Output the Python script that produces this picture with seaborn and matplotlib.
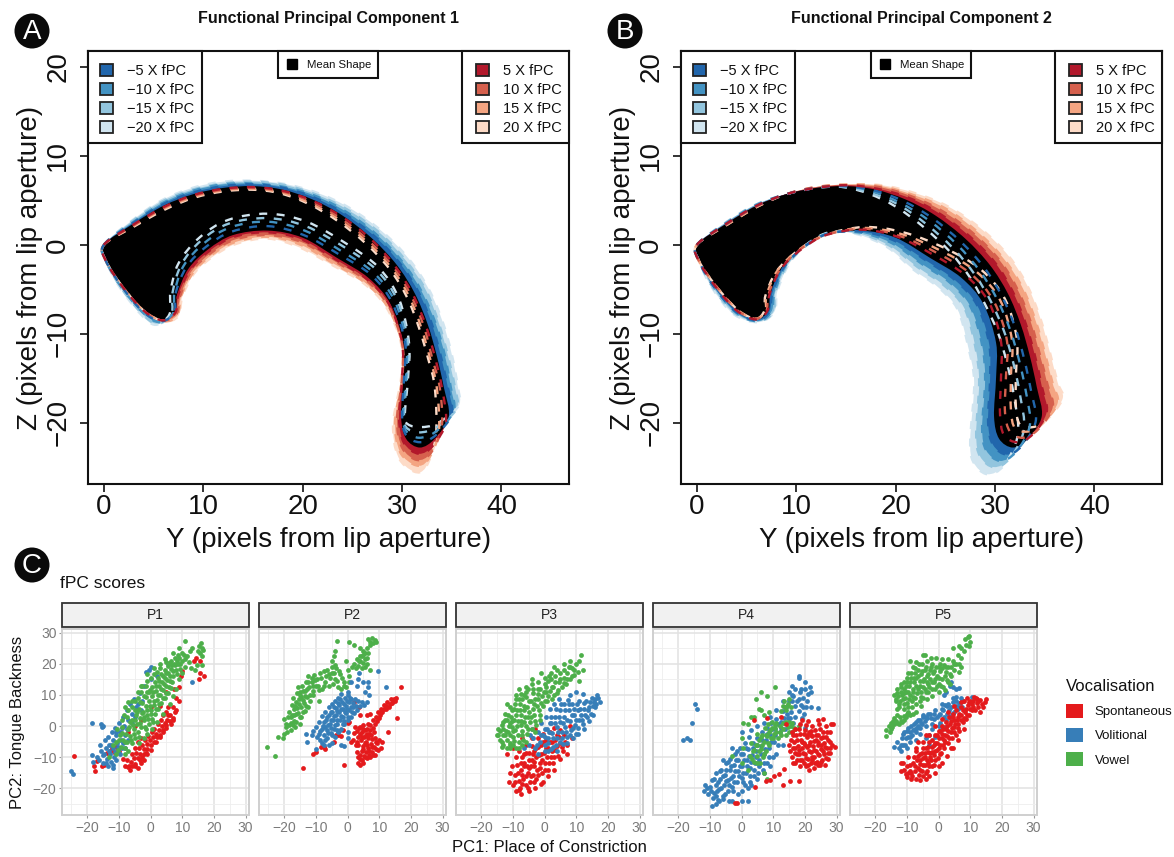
import numpy as np
import matplotlib
matplotlib.use('Agg')
import matplotlib.pyplot as plt
from matplotlib.patches import Patch, Circle, Rectangle, PathPatch
from matplotlib.path import Path
from matplotlib.ticker import MultipleLocator
import seaborn as sns

# Tongue outlines (same stations round the outline)
mean_y = [0,3,6,9,12,15,18,21,24,27,29.5,31.3,32.6,33.5,34.2,34.7,33.3,31.8,30.4,29.9,30.1,30.1,28.8,26.6,23.5,20,16.5,13,10.5,8.5,7.4,7.2,6,4,1.8,.2]
mean_z = [0,2.4,4.4,5.7,6.4,6.6,6.2,5.1,3.3,.7,-2.3,-5.5,-9,-12.5,-16,-19.3,-21.8,-22.8,-21.8,-19.3,-15,-11,-6.6,-3.7,-1.5,.8,1.6,1.1,-.5,-2.7,-5.5,-7.4,-8.4,-7.4,-4.6,-1.8]

a_pos20_y = [0,3.1,6.2,9.1,12,14.9,17.7,20.6,23.5,26.4,28.8,30.5,31.7,32.6,33.3,33.4,32.4,31.2,29.6,29.1,29.9,29.9,28.4,26.1,23,19.7,16.5,13.3,11,9.1,7.9,7.5,6,3.9,1.8,.2]
a_pos20_z = [0,2.1,4,5.3,6,6.2,5.8,4.6,2.7,.1,-2.8,-5.9,-9.3,-12.7,-16.1,-21.5,-25,-25.5,-23.8,-20.1,-15,-11.1,-7,-4.3,-2.3,-.3,.7,.1,-1.3,-3.2,-5.8,-8,-8.6,-7.3,-4.6,-1.8]
a_pos15_y = [0,3.1,6.1,9.1,12,14.9,17.8,20.7,23.6,26.6,29,30.7,31.9,32.8,33.5,33.7,32.6,31.4,29.8,29.3,30,30,28.5,26.2,23.1,19.8,16.5,13.2,10.9,9,7.8,7.4,6,3.9,1.8,.2]
a_pos15_z = [0,2.2,4.1,5.4,6.1,6.3,5.9,4.7,2.9,.2,-2.7,-5.8,-9.2,-12.7,-16.1,-21,-24.2,-24.8,-23.3,-19.9,-15,-11.1,-6.9,-4.2,-2.1,0,.9,.3,-1.1,-3.1,-5.7,-7.9,-8.6,-7.3,-4.6,-1.8]
a_pos10_y = [0,3,6.1,9,12,15,17.9,20.8,23.8,26.7,29.2,30.9,32.2,33,33.8,34,32.9,31.5,30,29.5,30,30,28.6,26.4,23.3,19.9,16.5,13.2,10.8,8.8,7.7,7.3,5.9,4,1.8,.2]
a_pos10_z = [0,2.2,4.2,5.5,6.2,6.4,6,4.9,3,.4,-2.6,-5.7,-9.2,-12.6,-16.1,-20.4,-23.4,-24.2,-22.8,-19.7,-15,-11.1,-6.8,-4,-1.9,.3,1.1,.6,-.9,-3,-5.7,-7.8,-8.5,-7.4,-4.6,-1.8]
a_pos5_y = [0,3,6.1,9,12,15,17.9,20.9,23.9,26.9,29.3,31.1,32.4,33.3,34,34.4,33.1,31.7,30.2,29.7,30,30,28.7,26.5,23.4,19.9,16.5,13.1,10.6,8.7,7.5,7.2,5.9,4,1.8,.2]
a_pos5_z = [0,2.3,4.3,5.6,6.3,6.5,6.1,5,3.2,.6,-2.4,-5.6,-9.1,-12.6,-16,-19.9,-22.6,-23.5,-22.3,-19.5,-15,-11,-6.7,-3.9,-1.7,.6,1.4,.9,-.7,-2.8,-5.6,-7.6,-8.5,-7.4,-4.6,-1.8]
a_neg20_y = [0,2.9,5.8,8.9,12,15.2,18.4,21.6,24.8,28,30.7,32.7,34.1,35,35.6,35.7,33.5,31.6,30.4,30.3,30.6,30.7,29.7,27.6,24.3,20.4,16.5,12.5,9.6,7.5,6.7,6.6,5.2,3.7,1.6,.2]
a_neg20_z = [0,2.8,5,6.4,7.1,7.2,6.8,5.8,4.1,1.5,-1.6,-5,-8.7,-12.3,-15.9,-18.1,-20.1,-20.5,-20,-18.7,-15,-11,-6.1,-2.5,.2,2.6,3.5,2.8,.8,-2.1,-5.3,-7.8,-9,-7.8,-4.8,-1.8]
a_neg15_y = [0,2.9,5.9,8.9,12,15.2,18.3,21.5,24.6,27.8,30.4,32.4,33.7,34.6,35.3,35.5,33.5,31.7,30.4,30.2,30.5,30.6,29.5,27.4,24.1,20.3,16.5,12.6,9.8,7.8,6.9,6.8,5.4,3.8,1.7,.2]
a_neg15_z = [0,2.7,4.9,6.2,6.9,7.1,6.7,5.6,3.9,1.3,-1.8,-5.1,-8.8,-12.4,-15.9,-18.4,-20.5,-21.1,-20.5,-18.9,-15,-11,-6.2,-2.8,-.2,2.1,3,2.4,.5,-2.2,-5.4,-7.7,-8.9,-7.7,-4.8,-1.8]
a_neg10_y = [0,3,5.9,9,12,15.1,18.2,21.3,24.4,27.5,30.1,32,33.4,34.3,34.9,35.2,33.4,31.7,30.4,30.1,30.4,30.4,29.3,27.1,23.9,20.2,16.5,12.8,10.1,8,7.1,7,5.6,3.9,1.7,.2]
a_neg10_z = [0,2.6,4.7,6.1,6.8,6.9,6.5,5.5,3.7,1.1,-2,-5.3,-8.9,-12.4,-16,-18.7,-21,-21.7,-20.9,-19,-15,-11,-6.4,-3.1,-.7,1.6,2.6,2,.2,-2.4,-5.4,-7.6,-8.7,-7.6,-4.7,-1.8]
a_neg5_y = [0,3,6,9,12,15.1,18.1,21.2,24.2,27.3,29.8,31.7,33,33.9,34.6,35,33.4,31.8,30.4,30,30.2,30.3,29,26.9,23.7,20.1,16.5,12.9,10.3,8.3,7.2,7.1,5.8,3.9,1.8,.2]
a_neg5_z = [0,2.5,4.6,5.9,6.6,6.8,6.4,5.3,3.5,.9,-2.1,-5.4,-8.9,-12.5,-16,-19,-21.4,-22.2,-21.4,-19.2,-15,-11,-6.5,-3.4,-1.1,1.1,2.1,1.5,-.2,-2.5,-5.5,-7.5,-8.6,-7.5,-4.7,-1.8]

b_pos20_y = [0,3.1,6.1,9,12,15.3,18.6,22,25.3,28.6,31.4,33.3,34.6,35.5,36.3,36.8,35.2,33.8,32.5,32.1,32.1,32.2,31,28.6,25,20.8,16.8,12.9,10.1,8,6.9,6.8,5.9,4.1,1.9,.2]
b_pos20_z = [0,2.3,4.3,5.7,6.5,6.8,6.7,5.8,4.3,1.8,-1.3,-4.7,-8.4,-12,-15.5,-17.3,-19.7,-20.5,-20.2,-18.3,-14.6,-10.6,-6.1,-2.8,-.4,1.4,2,1.1,-.7,-3,-5.7,-7.4,-8.3,-7.3,-4.6,-1.8]
b_pos15_y = [0,3.1,6.1,9,12,15.2,18.5,21.8,25,28.2,30.9,32.8,34.1,35,35.8,36.3,34.7,33.3,32,31.6,31.6,31.7,30.5,28.1,24.6,20.6,16.7,12.9,10.2,8.1,7,6.9,5.9,4.1,1.9,.2]
b_pos15_z = [0,2.3,4.3,5.7,6.5,6.8,6.6,5.6,4.1,1.5,-1.6,-4.9,-8.6,-12.1,-15.6,-17.8,-20.2,-21,-20.6,-18.6,-14.7,-10.7,-6.2,-3,-.7,1.2,1.9,1.1,-.6,-2.9,-5.7,-7.4,-8.3,-7.3,-4.6,-1.8]
b_pos10_y = [0,3.1,6.1,9,12,15.2,18.3,21.5,24.7,27.8,30.5,32.3,33.6,34.5,35.3,35.8,34.3,32.8,31.5,31,31.1,31.2,29.9,27.6,24.3,20.4,16.7,13,10.3,8.3,7.2,7,6,4.1,1.9,.2]
b_pos10_z = [0,2.4,4.4,5.7,6.5,6.7,6.5,5.5,3.8,1.3,-1.8,-5.1,-8.7,-12.3,-15.8,-18.3,-20.8,-21.7,-21,-18.8,-14.8,-10.8,-6.4,-3.3,-1,1,1.8,1.1,-.6,-2.9,-5.6,-7.4,-8.3,-7.4,-4.6,-1.8]
b_pos5_y = [0,3,6,9,12,15.1,18.2,21.3,24.3,27.4,30,31.8,33.1,34,34.7,35.2,33.8,32.3,30.9,30.5,30.6,30.6,29.4,27.1,23.9,20.2,16.6,13,10.4,8.4,7.3,7.1,6,4,1.8,.2]
b_pos5_z = [0,2.4,4.4,5.7,6.4,6.7,6.3,5.3,3.6,1,-2,-5.3,-8.9,-12.4,-15.9,-18.8,-21.3,-22.2,-21.4,-19,-14.9,-10.9,-6.5,-3.5,-1.2,.9,1.7,1.1,-.6,-2.8,-5.6,-7.4,-8.4,-7.4,-4.6,-1.8]
b_neg20_y = [0,2.9,5.9,9,12,14.7,17.4,20,22.7,25.4,27.5,29,30.3,31.2,31.9,32.3,30.9,29.2,27.8,27.5,27.9,27.3,26.2,24.2,21.8,19.2,16.1,13.3,11.1,9.3,8.1,7.8,6.2,3.7,1.5,.2]
b_neg20_z = [0,2.5,4.5,5.7,6.4,6.5,5.7,4.3,2.1,-.7,-3.7,-6.7,-9.9,-13.3,-17,-21.3,-24.8,-25.8,-24.4,-21.9,-15.5,-11.5,-7.2,-4.7,-2.8,-.3,1.2,1.4,.1,-2.1,-5.2,-7.5,-8.7,-7.8,-4.8,-1.8]
b_neg15_y = [0,2.9,5.9,9,12,14.8,17.6,20.3,23,25.8,28,29.6,30.9,31.8,32.5,32.9,31.5,29.9,28.5,28.1,28.4,28,26.9,24.8,22.2,19.4,16.2,13.2,11,9.1,7.9,7.7,6.2,3.8,1.6,.2]
b_neg15_z = [0,2.5,4.5,5.7,6.4,6.5,5.8,4.5,2.4,-.4,-3.4,-6.4,-9.7,-13.1,-16.8,-20.8,-24,-25,-23.8,-21.3,-15.4,-11.4,-7.1,-4.5,-2.5,-.1,1.3,1.3,-.1,-2.3,-5.3,-7.5,-8.6,-7.7,-4.8,-1.8]
b_neg10_y = [0,3,6,9,12,14.9,17.7,20.5,23.4,26.2,28.5,30.2,31.5,32.4,33.1,33.5,32.1,30.5,29.1,28.7,29,28.7,27.5,25.4,22.7,19.6,16.3,13.2,10.8,8.9,7.8,7.5,6.1,3.9,1.7,.2]
b_neg10_z = [0,2.5,4.5,5.7,6.4,6.6,6,4.7,2.7,0,-3,-6.1,-9.5,-12.9,-16.5,-20.3,-23.3,-24.3,-23.1,-20.6,-15.3,-11.3,-6.9,-4.2,-2.2,.2,1.4,1.3,-.2,-2.4,-5.4,-7.5,-8.6,-7.6,-4.7,-1.8]
b_neg5_y = [0,3,6,9,12,14.9,17.9,20.8,23.7,26.6,29,30.7,32,32.9,33.6,34.1,32.7,31.2,29.8,29.3,29.5,29.4,28.2,26,23.1,19.8,16.4,13.1,10.7,8.7,7.6,7.3,6,3.9,1.7,.2]
b_neg5_z = [0,2.4,4.4,5.7,6.4,6.6,6.1,4.9,3,.3,-2.7,-5.8,-9.2,-12.7,-16.3,-19.8,-22.6,-23.6,-22.5,-20,-15.1,-11.1,-6.8,-4,-1.8,.5,1.5,1.2,-.3,-2.6,-5.4,-7.5,-8.5,-7.5,-4.7,-1.8]

neg_colors = ['#2166AC', '#4393C3', '#92C5DE', '#D1E5F0']
pos_colors = ['#B2182B', '#D6604D', '#F4A582', '#FDDBC7']
neg_labels = ['\u22125 X fPC', '\u221210 X fPC', '\u221215 X fPC', '\u221220 X fPC']
pos_labels = ['5 X fPC', '10 X fPC', '15 X fPC', '20 X fPC']

# fPC scores: flat x, y pairs
p1_spont = [-24.2,-9.7,-18,-12.8,-17.6,-14.3,-16.8,-11.2,-15.4,-12.8,-14.6,-12.6,-13.8,-8.8,-12.8,-8,-12.2,-7.2,-11.5,-8.4,-11,-6.8,-10,-8,-8.7,-10.6,-7,-13.2,-6.8,-12.8,-6.2,-11.4,-5.8,-13,-5.2,-10.2,-4.8,-12.2,-4.5,-8.6,-4,-10.2,-3.6,-7.2,-3.2,-9,-2.8,-6,-2.2,-7.5,-1.8,-4.4,-1.2,-5.8,-.8,-3.2,-.2,-4.6,.3,-2,.8,-3.4,1.2,-.8,1.8,-2.4,2.2,.6,2.8,-1.2,3.2,2,3.6,0,4,3.4,4.4,1,5,4.6,5.2,2,5.4,6,6,3.4,7.6,4.6,8,9,7.5,12,9,12.5,9.6,16,10,17.6,13.8,21,14.2,22,15.5,21,15.2,15,15.6,17,17,16,-7,-2,-5,0,-3,2,0,6,3,6.5,5,11,
            -6,-9,-5,-7,-4,-5,-3,-4,-2,-9,-1,-7.4,0,-6,1,-5,2,-3.6,3,-3,4,-1.2,5,.4,6,1.6,7,2.6,8,5,9,8,-7.6,-11,-8,-13,-6.4,-14,-5,-12.8,-3.4,-11,-2.6,-10,-1.6,-8.8,7,6,5.6,3.6,
            1.6,-5,3,-3.4,4,-2,5,-.6,6.4,.6,7,2,-1,-9,0,-7.6,-3,-12,-2,-11,-4,-13.4]
p1_vol = [-25.2,-14.5,-24.6,-15.4,-18.5,1,-15.6,.8,-15.4,-.4,-15.2,0,-18.5,-9.4,-18.2,-11.4,-17,-9.8,-16,-6,-15.8,-8,-15,-9.2,-15,-12,-14.5,-4.5,-14.2,-7,-13.8,-10.5,-13.6,-13,-13.4,-3.5,-13,-6,-12.8,-9,-12.6,-11.5,-12.2,-2,-12,-4.5,-11.8,-7,-11.6,-10,-11.2,-.6,-11,-3,-10.6,-5.5,-10.4,-8,-10,1,-9.8,-2,-9.4,-4.5,-9,-7,-8.8,3,-8.4,0,-8,-3,-7.6,5,-7.2,2,-6.4,7,-6,4,-5.2,8.6,-4.6,6,-3.4,10.6,-2.8,8,-1.5,17.4,0,19,-.4,18,5.6,20,13,14,-2,13,0,15,2,16,
          -14.6,-9,-14,-11.8,-13,-8,-12.4,-6,-12,-12.4,-11.4,-8.4,-11,-11,-10.8,-1.8,-10.2,-6.6,-9.6,-9,-9,-.6,-8.8,-5.6,-8,-7,-7.4,-.8,-7,-4.6,-6,1,-5,3,-4,7,-3,5,-12,-13.4,-16.4,-10.8]
p1_vowel = [-11,-9,-10,-4.5,-9.4,-6.6,-8.6,-4.6,-8.2,-7,-7.8,-2.4,-7.4,-5.2,-6.8,-.2,-6.4,-3.2,-6,-5.6,-5.8,2,-5.4,-1,-5,-3.8,-4.6,3.6,-4.4,.8,-4,-1.8,-3.6,5.6,-3.4,2.6,-3,-.4,-2.6,7.4,-2.4,4.6,-2,1.8,-1.6,-1,-1.6,9.2,-1.4,6.4,-1,3.6,-.6,.8,-.6,10.8,-.4,8,0,5.2,.4,2.4,.4,12.4,.6,9.6,1,6.8,1.4,4,1.4,14,1.6,11.2,2,8.4,2.4,5.6,2.4,15.4,2.6,12.8,3,10,3.4,7.4,3.4,16.6,3.6,14,4,11.6,4.4,9,4.4,18,4.6,15.4,5,13,5.4,10.6,5.4,19.4,5.6,17,6,14.6,6.4,12.2,6.4,21,6.6,18.4,7,16,7.4,20,7.6,22,8,18,8.4,21,8.8,23,9.2,20,9.8,23.4,10.8,21.6,11,27.4,12.6,24,13,25,12.8,18.6,14,18,14.6,19.6,15,24,15.2,25.6,15.6,23.4,16,26.6,16.2,25,16.6,24.4,16.4,22.6,16.4,19.6,-7,5,-9,2,-4,9,-3,11,-1.6,12.8,0,15.6,2,17.5,-10.5,-1,-12,-6,-13,-10,
            -9,-2.2,-8,-5,-7.2,-.8,-6.6,1.4,-6.2,-4.4,-5.6,.4,-5.2,-2.4,-4.8,1.8,-4.2,4.6,-3.8,-3.4,-3.2,1,-3.2,7.6,-2.8,4.2,-2.2,3,-2.2,9.6,-1.8,-.2,-1.2,5,-1.2,11,-.8,2.2,-.2,6.6,-.2,11.6,.2,3.8,.8,10.8,.8,1.4,1.2,8,1.8,5.4,1.8,12.8,2.2,10,2.8,7,2.8,14.6,3.2,11.8,3.8,9,3.8,16,4.2,13.4,4.8,10.6,4.8,17,5.2,14.8,5.8,12.4,5.8,20.2,6.2,16,6.8,14.2,6.8,19.6,7.2,17.6,7.8,19.6,8.2,16.6,8.6,19.8,9,22,9.4,18.4,10,21,10.4,23,11.4,22.6,12,20.6,-6,8,-8,6,-5,5,-7.6,3,-3,13,-1,14.6,1,16.6,3,18.6,5,20.6,
            -11,-5,-10.4,-7.6,-9.6,-3,-9,-.4,-8.4,3.4,-7,7.6,-6,6,-5,8,-4,11,-2.6,13,-1,16.6,1,18.6,3,20,4.6,21.6,7,23.4,9,25,-3.6,-5.6,-2,-4,-1,-2.4,.6,-.8,2,1.4,4,4,6,7,7,9.6,8,12,9,15,10,17,11,19,-7,-8,-8,-9]
p2_spont = [-14,-13.4,-11,-9,-10,-8.4,-8.4,-6.8,-7.6,-6.6,-7,-7.4,-4.4,-5,-3.6,-2.8,-3,-3,-2,-3.2,-1.4,-1.4,0,1,.4,1.4,-1.2,-12.4,1,-5,2,7.8,3.6,6,4,3.4,6,3.4,7,3.8,1.8,-4.4,2,-2.2,2.2,-.4,2.6,-6,3,-1.6,3.2,-3.6,3,-8.4,3.2,-10,3.4,-12,3.4,-6,3.8,-2.6,4,-.2,4.2,-4.6,4,-10.6,4.4,-8,4.6,-2,4.8,-6.4,5,.4,5.2,-3.6,5.2,-9.6,5.4,-1.4,5.8,-5,5.8,-8.2,6,-2.4,6,-10.2,6.4,.8,6.6,-4,6.6,-7,6.8,-9.4,7,-1.4,7.4,-3,7.4,-5.8,7.6,-8.2,8,1.8,8,-.6,8.2,-6.8,8.6,-4,8.8,-9.4,9,2.8,9.2,-5.6,9.6,4.4,9.6,-7.6,10,-4.6,10.2,3.4,10.4,-7,10.6,5.6,11,-5,11,4.4,11.6,6.8,12,5.6,12.6,7.6,12.8,-1.8,13,6.2,13.6,8.6,14,7.4,14.6,8.8,15,8,15.4,9,15.6,2.6,17,12.6,
            3,-5,3.6,-.6,3.8,-9.2,4.4,-3.4,4.6,-11,4.8,-.8,5,-7.4,5.4,-5.6,5.6,-10,5.8,-3,6.2,-6,6.2,-1,6.8,-2.6,6.8,-8,7.2,-10,7.2,.2,7.8,-4.2,7.8,-6.6,8,-9.4,8.4,-2,8.6,.6,9,-7.4,9,-5,9.4,1.6,10,2.6,10.4,4.6,11.4,5.6,12.2,6.6,13.4,7.2,14.4,8,5,-12,4,-12.4]
p2_vol = [-13,-2.4,-12.8,-5.2,-11,-1.6,-10,-7.4,-10,-.4,-9.6,-3.4,-9,1.4,-8.8,-1.6,-8.6,-4.6,-8,3.2,-7.8,0,-7.6,-2.8,-7.4,-6.2,-7,4.6,-6.8,1.8,-6.6,-1.2,-6.4,-4,-6,6,-5.8,3.4,-5.6,.6,-5.4,-2.2,-5,-5.4,-5,7,-4.8,4.6,-4.6,2,-4.4,-.8,-4,-3.6,-4,8,-3.8,5.8,-3.6,3.4,-3.4,.6,-3,-2,-3,9,-2.8,6.8,-2.6,4.4,-2.4,2,-2,-.8,-2,10.4,-1.8,7.8,-1.6,5.6,-1.4,3,-1,.6,-.8,9,-.6,6.6,-.4,4.2,0,2,0,-4,.2,10,.4,7.6,.6,5.2,1,3,1.2,8.6,1.6,6.2,2,4.2,2.2,8.8,2.8,6.6,3.4,8,4,6.4,4.6,7.6,5.2,6.8,6,7.6,-11.2,-3,.2,11,1,14,3,13,3.4,15,5,14,5.6,11,6.4,14,6.6,12.6,6.8,10,9.6,17.6,12,12.4,3.6,17,-2,-6,-1,-6.4,
          -8.2,-1,-7.4,1.2,-7,-4.4,-6.4,3,-6.2,-2.2,-6.2,.4,-5.4,4.4,-5.4,-.6,-5.2,1.8,-4.8,-3,-4.4,3.2,-4.2,6.2,-4,.2,-3.4,-1.4,-3.2,4.8,-3.2,2,-3,7.4,-2.6,-1.6,-2.4,8.6,-2.2,3.2,-2,5.6,-1.6,.8,-1.2,7,-1.2,1.6,-.8,4.4,-.2,8,-.2,5.4,.2,3,.8,9,1,6,1.4,4.4,1.8,7.4,-9,-2.6,-8,-5.6,-6,-6,-7,-.2,0,-2,3,5]
p2_vowel = [-25.6,-6.8,-23,-9.6,-22,-3.4,-20.4,-4,-20,-2.6,-19.6,-.4,-20,2.2,-19.4,.8,-19,-2,-18.8,2.8,-18.4,4.6,-18,1,-18,-1.2,-17.6,6.8,-17.6,3.4,-17.2,9,-17,5.6,-16.8,1.6,-16.6,-.4,-16.4,7.6,-16.2,3.8,-16,10.6,-16,5.8,-15.6,12.6,-15.4,8.8,-15.2,2.8,-15,10.8,-14.8,6.2,-14.4,13,-14.2,8.4,-14,4.4,-13.6,11.2,-13.2,14.2,-13,6.6,-12.8,9.4,-12.4,16,-12.2,12.4,-12,8,-11.4,15.6,-11,12.8,-10.6,16.4,-10,13,-9.6,15,-9,11.6,-8.4,15.6,-8,12,-7.6,17.6,-7,14,-6.4,18,-6,12.8,-5.6,15.4,-5,19,-4.6,13.4,-4.2,17,-4,19.6,-3.4,14.6,-3,12.6,-2.4,16.6,-2,11.8,-1.2,14,-.6,12.4,0,18,.6,16,2,20,2.6,18.6,3,21.4,3.4,19.4,4,20.8,4.4,18.6,4.6,22.6,5,20.2,5.4,19,5.6,23.6,6,22,6.2,25,6.6,28,7,27,7.6,28.4,8,26.6,8.8,27.6,9,27,-3.2,27.4,.6,27,2,26,-4,24,-4.2,22.4,-.4,21,4,25,7,18,-5,21,-9,8,-11,10,
            -18.6,.2,-18,3,-17.4,.4,-17,3.4,-16.6,6.6,-16.2,1.2,-15.8,4.2,-15.4,7,-15.2,10,-15,.8,-14.6,3,-14.6,9.4,-14.2,11.4,-13.8,7.4,-13.4,9.6,-13.4,4.8,-12.8,12,-12.4,14.2,-12.6,6.2,-11.8,10,-11.4,14,-10.8,11.4,-10.2,14.8,-9.4,12.8,-8.8,17,-7.4,13,-6.8,16,-6,16.8,-5,17,-4,15,-3.6,18.6,-2.8,17.6,-1.8,15.6,-1,13,.6,14,1.4,19,3.6,21,4,22.4,4.8,24,5.4,21.6,6,20,5,23,6.4,23.6,7.2,26]
p3_spont = [-10,-19,-9.4,-15.6,-9,-21,-8.6,-12.4,-8,-17.6,-7.8,-20,-7.4,-14,-7,-10,-6.8,-17,-6.4,-12,-6,-19,-5.8,-8.6,-5.4,-15,-5,-11,-4.6,-18,-4.4,-13,-4,-6.4,-3.8,-9,-3.6,-15.6,-3.2,-11.4,-2.8,-7,-2.6,-17,-2.4,-14,-2,-4,-1.8,-9.4,-1.4,-12,-1,-6,-.8,-15,-.4,-2.6,-.2,-8.6,.2,-11.8,.6,-4.6,1,-7,1.2,-14,1.6,-2,2,-10,2.4,-5,2.8,-12,3,-.6,3.4,-7.6,3.8,-3,4.2,-9.6,4.8,-1.4,5,-5.6,5.8,-8,6.2,-3,7,-6,8,0,-3,-20,-5,-21,-.4,-18,-12,-9,-7,-4,-10,-7,-3,-1,
            -9.2,-18,-8.4,-15,-8.2,-20.6,-7.6,-11.8,-7.2,-18.6,-7,-15.6,-6.6,-9,-6,-16.2,-5.6,-13,-5.4,-20,-5,-8.6,-4.8,-13.6,-4.2,-16,-4,-11,-3.4,-8,-3.4,-13,-3.2,-18,-2.8,-10,-2.2,-15.6,-2,-6.6,-1.6,-13.6,-1.2,-9,-.8,-11,-.4,-5,0,-14,.4,-7,.8,-10,1.4,-12,1.8,-5,2.4,-8,3,-10,3.4,-4.6,4,-6.4,4.6,-3.4,5.4,-6.8,6.4,-5,-6.6,-13,-4,-4,
            -11,-15,-10.4,-13,-9,-10,-8,-8,-6,-6,-11.4,-18,-1,-18.6,1,-16,3,-14,5,-10.6,7,-9,8.6,-4,-7.6,-22]
p3_vol = [-5,-6,-3.6,-4,-3,-7,-2,-2,-1.6,-5,-1,1,-.6,-3,0,-6,.4,3,.8,-1,1.2,-4,1.6,5.4,2,1,2.4,-2.2,2.6,-6.6,3,7,3.4,3,3.8,-.4,4,-4,4.4,8.6,4.8,5,5,1.2,5.4,-2,5.8,-5.8,6,7,6.2,3,6.6,-.2,7,-3.6,7.4,8.4,7.6,5,8,1.6,8.4,-1.4,8.8,7,9.2,3.4,9.6,.4,10,-2.4,10.4,5,10.8,2,11,8,11.6,3.6,12,.6,12.4,5.6,13,8,13.4,3,14,6,14.6,4,15,9,15.2,6.4,16,6,16,8.6,16.6,10,17,9,17.4,7.6,-2,-9,1,-8,4,-8,8,10,10,11,12,10.4,-4,-1,-6.4,-7,
          1,-5.6,1.6,1,2,3,2.8,-4,3.2,1,3.6,5.4,4.2,-2,4.6,2.8,5.2,7,5.6,-4,5.8,1,6.4,5,6.8,-2,7.2,2,7.8,7,8,-3,8.6,3.4,9,-.6,9.4,5.4,9.8,2,10.2,7,10.6,-.6,11.2,5.6,11.8,2,12.6,7.4,12.8,3.6,13.6,5,14.2,7.6,15.6,7.6,16.4,7.2,0,-1,-1,-3,
          0,-8,2,-7.4,3.6,-6,5,-5,7,-5.4,9,-3.8,10.6,-2.6,12.6,-1,14,1.6,15.4,3.4,-4.6,-3,-2.4,-6,0,-3.6,1.4,-2]
p3_vowel = [-15,-3,-14.6,-1,-14,-4.4,-13.6,.4,-13.2,-3,-13,-6,-12.4,1.8,-12.2,-1.6,-12,-4.6,-11.6,3.6,-11.4,0,-11,-3,-10.8,-7,-10.4,5,-10.2,1.6,-10,-1.6,-9.6,-4.8,-9.2,7,-9,3.4,-8.8,0,-8.4,-3,-8,8.6,-7.8,5,-7.6,1.6,-7.2,-1.6,-6.8,-4.4,-6.6,10,-6.4,6.6,-6.2,3,-6,0,-5.6,-2.6,-5.2,12,-5,8.2,-4.8,4.6,-4.6,1.4,-4,-1,-3.6,10.6,-3.4,7,-3.2,3.4,-2.8,.4,-2.2,12,-2,8.6,-1.8,5,-1.4,2,-.8,9.8,-.4,6.4,0,13.6,.4,11,.8,8,1,14.4,1.6,11.2,2,15,2.4,8.6,2.8,12.6,3.4,16,3.8,10.6,4.4,14,4.8,17,5.4,12.4,6,15.6,6.8,13.6,7.2,17,8,15,8.6,18.8,9.2,16.4,9.8,20,10.4,17.4,11,21,11.4,23,10.8,14.4,12,18,-8,12,-4,15,-1,17,3,19,6,20,8,21,-12,7,-9,-7,-11,-5.4,-7,-6,-3,-2,
            -14.6,-3,-14,-1.6,-13.6,-5,-13,-1,-13,1.4,-12.4,-3,-11.8,2,-11.6,-2,-11,1,-11,-6,-10.6,3,-10.4,-.2,-10,-3.4,-9.8,5.6,-9.6,1.8,-9.4,-1.4,-8.6,5,-8.4,1.6,-8.2,-5,-7.8,7,-7.6,3.4,-7.4,.2,-7,8.6,-7,-3,-6.6,5,-6.4,1.4,-5.8,9.4,-5.6,6,-5.4,2.8,-5.2,-1,-4.4,8,-4.2,3,-3.8,12,-3.6,5.4,-3,8.8,-3,1.6,-2.4,6.4,-2.2,10.4,-1.4,12,-1.6,3.6,-1,7.4,-.2,11,.2,8,.6,12.6,1.2,9.8,1.4,16,2.2,12.6,3,10,3.4,14,4.2,11.6,5,15,6,13.8,7,15.2,7.6,19,8.8,16,9.4,18,-6,11,-9,10,
            -13.6,-6.6,-12,-7,-10,-6,-8,-7,-6,-5,-12.6,4,-11,6,-9,8.8,-7.6,10.4,-6,12.6,-4,13.6,-2,14,0,15.6,2,17,4,18,6,18,8,19]
p4_spont = [4.2,-19.7,4,2,8,2.5,7.7,-17.8,9,-17.3,10.2,-16,11.8,-15.3,13.5,-13.7,13.2,-19,15.3,-17.8,18,-17.6,-2,-24.6,-1.4,-24.6,12.6,3,14,.6,15,-6,15.4,-8,15.6,-4.4,16,-10,16.2,-7,16.4,-12,16.6,-5,17,-8.8,17.2,-3,17.4,-11,17.8,-6.4,18,-1,18.2,-9,18.4,-13,18.8,-4.4,19,-7,19.2,-11,19.6,-2.6,19.8,-5.4,20,-9,20.2,-13,20.4,.4,20.6,-3.6,20.8,-6.8,21,-10.6,21.2,-14,21.4,-1.8,21.6,-5,21.8,-8.4,22,-12,22.2,0,22.4,-3.2,22.6,-6.4,22.8,-10,23,-13.6,23.2,-1.4,23.4,-4.6,23.6,-8,23.8,-11.6,24,-2.8,24.2,-6,24.4,-9.4,24.6,.6,24.8,-12.6,25,-4,25.2,-7.4,25.4,-10.8,25.6,2.2,25.8,-1.8,26,-5.4,26.2,-9,26.4,-12.4,26.6,0,26.8,-3.4,27,-7,27.2,-10.6,27.8,-5,28,-1.8,28,-8.6,28.4,.8,28.6,-6,29,.6,29.4,-6.8,19,2,21,1.6,24,2,
            16.4,-3,16.8,-7,17,-12,17.4,-4.6,17.6,-9,18,-7.6,18.4,-2.4,18.6,-11,19,-5,19.4,-8.6,19.6,-12,20,-1.4,20,-6,20.4,-10.4,20.8,-3,21,-12.4,21.2,-8,21.4,-6,21.8,-3,22,-1.6,22.2,-9.8,22.4,-11,22.8,-4.8,23,-7.6,23.2,-12,23.6,-2.8,24,-5,24,-9,24.2,-12.6,24.8,-1,25,-6.2,25,-11.4,25.6,-3.4,25.8,-8,26.4,-6.8,26.6,-10.4,27,-2,27.4,-4.4,27.4,-8.6,28,-7,17,-1,18.6,.6,16,-1.8]
p4_vol = [-18.6,-4.6,-17.4,-3.8,-16.4,-4.4,-15.8,1,-14.6,7,-14.2,5.4,-11,-20,-10,-19.6,-9.4,-17.4,-9.2,-25.6,-8.6,-21.6,-8.2,-19,-8,-15,-7.4,-23.8,-7,-20.4,-6.8,-17,-6.4,-14,-6,-22.6,-5.6,-19,-5.2,-15.6,-5,-12,-4.4,-21,-4.2,-17.4,-3.8,-14,-3.6,-10.6,-3,-19.6,-2.8,-16,-2.4,-12.4,-2,-9,-1.4,-18,-1.2,-14.6,-1,-11,-.6,-7,0,-21,0,-16.6,.2,-12.8,.6,-9,1,-5.4,1,-19,1.4,-15,1.8,-11,2,-7.4,2.4,-3.6,2.6,-18,2.8,-13.4,3.2,-9.4,3.6,-5.6,4,-16,4.2,-12,4.6,-8,5,-3.8,5.2,-15,5.6,-10.8,6,-6.4,6.4,-2,6.8,-14,7,-9,7.6,-4.6,8,-.6,8,-12,8.6,-7,9,-2.8,9.2,1,9.8,-10,10.2,-5,10.6,-1,11,2.4,11.6,-6,12,-2,12.6,1.4,13,4.8,13.6,-1,14,6,14.6,2.6,15,8,15.6,4.6,16,10,16.4,1,16.8,6.6,17,12,17.6,8.2,18,4.8,18.4,11,18.8,6.8,19,2.6,19.4,9,20,12,20,-.6,20.4,6,20.6,8,21,10.4,22,6,24,5.8,16.4,9.6,16,13,18,15.4,20,14,21.6,12.6,22,11,18,16,-6,-23.6,-7,-24.2,2,-24,
          -9.6,-21,-8.6,-17,-7.8,-21,-7.4,-18,-6.8,-14.6,-6.4,-20,-6,-16,-5.4,-22,-5,-17.8,-4.8,-14,-4.4,-11.6,-4,-19,-3.4,-16.6,-3.2,-13,-2.8,-21,-2.4,-18,-2,-14.6,-1.8,-11,-1.4,-8,-.8,-16,-.6,-12.8,-.2,-9,.4,-18,.6,-15,.8,-11,1.4,-7,1.8,-13,2.2,-9.6,2.8,-16,3,-11.4,3.6,-7,4,-14,4.4,-10,5,-6,5.4,-13,6,-9,6.4,-4.6,7,-12,7.4,-7.4,8,-2.4,8.6,-10,9.2,-5,9.6,-1,10.6,-3,11.4,.6,12.4,-.6,13.4,2.6,14.2,4,15.4,2.6,15.8,8,17,3,18,8.6,19.4,6,18.8,12,19.6,4,-8,-22.4,-3,-24,-11.6,-19,2,-20,
          -10.6,-22,-9,-23,-8,-25,-4,-24,-1,-22,0,-24,-12,-21,-6,-11,-3,-7,0,-2,3,-1.4,5,0,7,1,9,3,11,5,13,8,15,11,3,-19,5,-17,7,-15,9,-13,11,-9,13,-6]
p4_vowel = [-3,-9.6,0,-4,.4,1,2,.8,3,3,0,-12,2,-14,2.6,-9.6,3,-5.6,3.6,-8,4,-11.6,4.4,-6,4.8,-2.6,5,-9.6,5.4,-4.6,5.8,-12,6,-7.4,6.4,-2.8,6.8,-10,7,-5,7.4,-.6,7.8,-8,8,-3.2,8.4,.6,8.8,-6,9,-1.4,9.6,1.4,9.8,-3.8,10.4,-.6,11,1,11.4,-4,12,-2,13,-1,13.6,1,14,-3,14.6,-.4,15,-1.8,15.6,0,16,-2,16.6,-.6,17,-1,18,0,12.4,4.8,13,6.6,13.4,8,14,5.2,14.4,6.6,15,8.8,15.6,6,6,11,8,9.6,10.4,12.6,4.6,8.6,5.6,5.6,6.2,5,7,3.6,8.6,4.6,4,3,.6,-7,8,-17,7,-15,
            4,-7.6,5,-6,5.6,-8,6,-3.4,6.6,-6,7,-9,7.6,-3,8.2,-5.6,8.6,-2,9.2,-4,9.6,-.6,10.2,-2.4,10.6,.4,11,-2,12,0,12.6,-3,13,1,14,1.4,15,1.4,16,1,13.8,6,14.8,7,3.4,-10.6,5,-12]
p5_spont = [-12,-12,-11.4,-12,-12,-14.4,-10.4,-15.4,-10,-16.4,-9.6,-15.2,-9,-14.4,-8.4,-16.2,-8,-12,-7.6,-14.6,-7.2,-17,-6.8,-11,-6.6,-13.4,-6.2,-15.6,-6,-9,-5.8,-12.2,-5.4,-14.4,-5,-7,-5,-10.4,-4.8,-16,-4.4,-12.6,-4.2,-8.6,-3.8,-14.4,-3.6,-10.8,-3.2,-6.6,-3,-13,-2.8,-8.6,-2.4,-11,-2,-4.6,-2,-6.8,-1.6,-9.4,-1.4,-12.6,-1.2,-3,-1,-5.4,-.6,-7.6,-.2,-10.4,0,-1.6,.2,-4,.6,-6,.8,-8.6,1,0,1.2,-2.6,1.6,-4.6,1.8,-7,2.2,1.4,2.4,-1,2.8,-3.2,3,-5.6,3.2,3,3.6,.6,3.8,-1.8,4.2,-4,4.4,4,4.8,1.8,5,-.4,5.4,-3,5.6,5,6,3,6.2,.6,6.6,-1.6,7,6,7.2,3.6,7.6,1.4,8,8,8.4,4.6,8.6,2.4,9.2,6.8,9.6,3.6,10,5.6,10,8,10.6,7,11.2,9.4,11.4,5,11.8,9,12,7.4,12.6,6,13,8.4,13,4.4,13.6,7,14,6,15,8.6,-6.4,-5,-7,-7,-3,-16,0,-13,4,-7,-4,-3,
            -10,-13,-9,-12.6,-8.6,-15,-7.8,-10,-7.4,-13,-6.4,-9.6,-6,-11,-6,-14,-5.2,-8.6,-5,-12.4,-4.4,-10,-4,-7,-4,-15,-3.4,-8.4,-3.4,-12,-3,-5,-2.6,-10,-2.2,-13,-2,-8.4,-1.4,-6,-1,-8,-1,-11,-.4,-3,-.4,-5.6,.2,-7,.4,-1.6,.6,-9,1,-4,1.4,-1,1.4,-6,2,-2.8,2,-5,2.6,0,3,-1.6,3.4,-4,3.8,1.6,4.2,-.6,4.6,3,4.8,-2,5.2,.6,5.8,2,6,-.6,6.6,4,7,1.8,7.6,5,8,2.6,8.8,5.6,9,3.6,9.6,7.6,10.4,5,10.8,8,11,6,12,8.6,12.6,8,
            -11,-14,-8.6,-17,-6,-17.4,-4,-17,-1,-15,1,-12,2.6,-9.6,4.6,-7,6,-4.6,8,-1,-9.6,-10,-7,-8,-5,-5,-3,-3,-1,0,1,2.4,3,4.6,5,6.4,7,7.6,9,9,14.6,7.6]
p5_vol = [-14,-6.6,-12.6,-7.2,-12,-8,-12,-6,-11.6,-4,-11.2,-6,-11.4,-2.4,-10.4,-4,-10,-1.6,-9.8,-3.4,-9,-2,-8.6,0,-8.4,-3,-7.6,-1,-7.2,1.2,-7,-2,-6.4,0,-6,2,-5.4,.6,-5,3,-4.4,1.6,-4,-4,-3.6,2.6,-3,-3,-2.6,4,-2,-1,-1.4,2.4,-1,5,0,3.4,.4,1,1,5.6,1.6,3,2,6.8,2.8,4,3,7,3.6,2.8,4,6,4.6,7.8,5,4.4,5.4,8,6,5.6,6.4,7.4,7,7.6,7.4,6,1.6,10,2.4,11,3.6,13,3.8,14,4.4,12.4,5.4,12,6.6,12.2,4.6,9,5.6,9.4,7.2,9,10.6,9.2,1.2,7,-3,-6,
          -11,-2,-10.6,-6,-9.6,-.6,-9,-3.6,-8.2,-1.4,-7.8,.6,-6.8,-.6,-6.4,2,-5.8,-.6,-5.6,1,-4.8,3.6,-4,2.8,-3.2,4,-2.4,2.6,-1.6,4,-.6,3,.4,4,1.4,5,2.4,2,2.6,6.4,3.4,5,4.2,4,5.4,6.4,6.6,6,7.6,8,
          -13,-5,-10,-7,-9,-5,-7,-4.6,-6,-2.6,-4,0,-2,.6,-1,-3.4,0,0,1,-1,2,-.4]
p5_vowel = [-16.7,-3.2,-16.6,-1.4,-15.8,0,-15.4,-1.8,-15,1,-14.6,-.4,-14,2.6,-14,.6,-13.4,1.6,-13,3.6,-12.6,.8,-12.2,3,-11.6,1.4,-11,3.2,-10.4,3,-9.6,4.6,-9,3.6,-8,4,-14,10,-13.6,8,-13.2,12,-12.8,9.6,-12.4,7,-12,11,-11.8,13.6,-11.4,8.6,-11,5.4,-10.8,10.6,-10.4,13,-10,15.6,-10,7.4,-9.6,11,-9.2,8.6,-9,14,-8.8,17,-8.4,6,-8.2,12,-8,9.4,-7.8,15.6,-7.4,18.6,-7.2,7,-7,13,-6.8,10.6,-6.4,16,-6.2,20,-6,8,-5.8,13,-5.6,11,-5.2,17.6,-5,23,-5,14.6,-4.8,9,-4.4,12,-4.2,23,-4,19,-3.6,16,-3.4,13.6,-3.2,10.8,-2.8,18,-2.6,15,-2.2,12,-2,20,-1.8,17,-1.4,14,-1,11.8,-.8,19,-.4,16,0,13.6,.4,20,.6,17.6,1,15,1.4,12.6,1.6,19.6,2.2,17.4,2.6,14.8,3,19,3.6,16.6,4,19,4.6,21,5,18,5.6,20,6,23,6.4,20,6.6,17.4,7,19,7,22,7.2,25,8,24,8.2,28,8.8,26,9.4,28.6,9.6,25.6,9.8,27,9.6,29,4.6,25,6.6,25.6,-9,21,-2.4,22,
            -13.4,8.6,-13,10.6,-12.6,6,-12.2,8,-12,12.6,-11.6,10,-11,7,-11,12,-10.6,9,-10.2,11,-10,14,-9.6,6,-9.4,13,-9,10,-8.6,15.4,-8.4,8,-8,11,-7.8,14,-7.6,17,-7.4,9,-7,15.6,-6.6,12,-6.6,18,-6,14.6,-5.6,16.6,-5.6,9.4,-5.4,20,-5,12.4,-4.6,15,-4.4,18,-4,11,-3.8,14,-3.2,16.8,-3,12.4,-2.4,19,-2,14,-1.4,17.6,-1,15,-.6,13,0,19,.2,15.6,.8,13,1,18.6,2,16,2.4,19,3,14,4,16,5,20,-15,-.8,-14.4,1.6,-13,1,-12,1.6,-11,2,-10,4,
            -13,5.6,-11,14,-9.6,17,-8,19,-7,20.6,-3.6,21,-.8,22,1,21.4,3,21.6,-9.4,4,-7,4.6,-5.6,6.6,-3.6,8.6,-2,9.8,0,11,2,11.6,3.6,13.6]

speakers = ['P1', 'P2', 'P3', 'P4', 'P5']
voc_names = ['Spontaneous', 'Volitional', 'Vowel']
voc_colors = {'Spontaneous': '#E41A1C', 'Volitional': '#377EB8', 'Vowel': '#4DAF4A'}

W, H = 1174, 857
sns.set_theme(style='white')
plt.rcParams['font.family'] = ['Liberation Sans', 'DejaVu Sans']
plt.rcParams['text.color'] = '#111111'
plt.rcParams['axes.labelcolor'] = '#111111'
plt.rcParams['xtick.color'] = '#111111'
plt.rcParams['ytick.color'] = '#111111'
fig = plt.figure(figsize=(W / 100, H / 100), dpi=100)


def box(l, t, r, b):
    # pixel box to figure fractions
    return [l / W, 1 - b / H, (r - l) / W, (b - t) / H]


def pairs(vals):
    a = np.array(vals).reshape(-1, 2)
    return a[:, 0], a[:, 1]


def outline(y, z):
    # closed bezier through the read points, so the outline has no corners
    p = np.column_stack([y, z])
    n = len(p)
    verts = [p[0]]
    codes = [Path.MOVETO]
    for i in range(n):
        a, b, c, d = p[i - 1], p[i], p[(i + 1) % n], p[(i + 2) % n]
        verts += [b + (c - a) / 6, c - (d - b) / 6, c]
        codes += [Path.CURVE4] * 3
    return Path(verts, codes)


def legend_frame(ax, l, r, b):
    # frame from pixels relative to the 481 x 433 axes box, hanging off the top
    ax.add_patch(Rectangle((l / 481, 1 - b / 433), (r - l) / 481, b / 433, transform=ax.transAxes,
                           fc='white', ec='#111111', lw=1.5, zorder=4, clip_on=False))


def tongue_panel(ax, title, neg, pos):
    # lightest first so the darker bands sit on top, mean in black last
    for i in [3, 2, 1, 0]:
        ax.add_patch(PathPatch(outline(*neg[i]), fc=neg_colors[i], lw=0))
        ax.add_patch(PathPatch(outline(*pos[i]), fc=pos_colors[i], lw=0))
    ax.add_patch(PathPatch(outline(mean_y, mean_z), fc='black', lw=0))
    for i in [3, 2, 1, 0]:
        for curves, cols in ((neg, neg_colors), (pos, pos_colors)):
            ax.add_patch(PathPatch(outline(*curves[i]), fill=False, ec=cols[i], lw=1.7,
                                   ls=(0, (3.4, 4)), capstyle='butt'))
    ax.set_xlim(-1.6, 46.8)
    ax.set_ylim(-26.9, 21.8)
    ax.set_xticks([0, 10, 20, 30, 40])
    ax.set_yticks([-20, -10, 0, 10, 20])
    ax.tick_params(axis='x', length=6, width=1.2, labelsize=20, pad=1, bottom=True)
    ax.tick_params(axis='y', length=6, width=1.2, labelsize=20, pad=6, left=True)
    plt.setp(ax.get_yticklabels(), rotation=90, va='center')
    for s in ax.spines.values():
        s.set_linewidth(1.5)
        s.set_color('#111111')
    ax.set_xlabel('Y (pixels from lip aperture)', fontsize=20, labelpad=5)
    ax.set_ylabel('Z (pixels from lip aperture)', fontsize=20, labelpad=2)
    ax.set_title(title, fontsize=11.5, fontweight='bold', pad=20)
    legend_frame(ax, 0, 114, 92)
    legend_frame(ax, 190, 290, 27)
    legend_frame(ax, 374, 481, 92)
    kw = dict(frameon=False, borderaxespad=0, borderpad=0, handlelength=0.89, handleheight=0.89)
    left = ax.legend(handles=[Patch(fc=c, ec='#222222', lw=1.3, label=t) for c, t in zip(neg_colors, neg_labels)],
                     loc='upper left', bbox_to_anchor=(12 / 481, 1 - 13 / 433), fontsize=10.5,
                     labelspacing=0.34, handletextpad=0.95, **kw)
    left.set_zorder(6)
    ax.add_artist(left)
    right = ax.legend(handles=[Patch(fc=c, ec='#222222', lw=1.3, label=t) for c, t in zip(pos_colors, pos_labels)],
                      loc='upper left', bbox_to_anchor=(388 / 481, 1 - 13 / 433), fontsize=10.5,
                      labelspacing=0.34, handletextpad=0.95, **kw)
    right.set_zorder(6)
    ax.add_artist(right)
    mid = ax.legend(handles=[Patch(fc='black', ec='black', label='Mean Shape')], loc='upper left',
                    bbox_to_anchor=(199 / 481, 1 - 8.5 / 433), fontsize=8.2, handletextpad=0.88,
                    frameon=False, borderaxespad=0, borderpad=0, handlelength=0.88, handleheight=0.88)
    mid.set_zorder(6)


ax_a = fig.add_axes(box(88, 51, 569, 484))
tongue_panel(ax_a, 'Functional Principal Component 1',
             [(a_neg5_y, a_neg5_z), (a_neg10_y, a_neg10_z), (a_neg15_y, a_neg15_z), (a_neg20_y, a_neg20_z)],
             [(a_pos5_y, a_pos5_z), (a_pos10_y, a_pos10_z), (a_pos15_y, a_pos15_z), (a_pos20_y, a_pos20_z)])
ax_b = fig.add_axes(box(681, 51, 1162, 484))
tongue_panel(ax_b, 'Functional Principal Component 2',
             [(b_neg5_y, b_neg5_z), (b_neg10_y, b_neg10_z), (b_neg15_y, b_neg15_z), (b_neg20_y, b_neg20_z)],
             [(b_pos5_y, b_pos5_z), (b_pos10_y, b_pos10_z), (b_pos15_y, b_pos15_z), (b_pos20_y, b_pos20_z)])

# overlay in pixel coordinates for strips and the panel letters
over = fig.add_axes([0, 0, 1, 1], zorder=5)
over.set_xlim(0, W)
over.set_ylim(H, 0)
over.axis('off')
for (cx, cy), letter in zip([(32, 31), (625, 31), (32, 565)], 'ABC'):
    over.add_patch(Circle((cx, cy), 17.5, fc='#0a0a0a', ec='none'))
    over.text(cx, cy + 1, letter, color='white', fontsize=20, ha='center', va='center')

panel_left = [62, 259, 456, 653, 850]
draw_order = [[(p1_spont, 'Spontaneous'), (p1_vol, 'Volitional'), (p1_vowel, 'Vowel')],
              [(p2_vowel, 'Vowel'), (p2_spont, 'Spontaneous'), (p2_vol, 'Volitional')],
              [(p3_spont, 'Spontaneous'), (p3_vol, 'Volitional'), (p3_vowel, 'Vowel')],
              [(p4_vol, 'Volitional'), (p4_vowel, 'Vowel'), (p4_spont, 'Spontaneous')],
              [(p5_vol, 'Volitional'), (p5_vowel, 'Vowel'), (p5_spont, 'Spontaneous')]]

for k, name in enumerate(speakers):
    ax = fig.add_axes(box(panel_left[k], 629, panel_left[k] + 187, 815))
    for vals, voc in draw_order[k]:
        x, y = pairs(vals)
        sns.scatterplot(x=x, y=y, color=voc_colors[voc], s=12, linewidth=0, ax=ax, legend=False, zorder=3)
    ax.set_xlim(-28, 31.1)
    ax.set_ylim(-28.6, 31.2)
    ax.set_xticks([-20, -10, 0, 10, 20, 30])
    ax.set_yticks([-20, -10, 0, 10, 20, 30])
    ax.xaxis.set_minor_locator(MultipleLocator(5))
    ax.yaxis.set_minor_locator(MultipleLocator(5))
    ax.grid(which='major', color='#E2E2E2', lw=1.1)
    ax.grid(which='minor', color='#EEEEEE', lw=0.6)
    ax.set_axisbelow(True)
    ax.tick_params(axis='x', which='major', bottom=True, length=2.5, width=0.8, color='#999999', labelcolor='#7A7A7A', labelsize=10, pad=1.5)
    ax.tick_params(axis='y', which='major', left=(k == 0), labelleft=(k == 0), length=2.5, width=0.8, color='#999999', labelcolor='#7A7A7A', labelsize=10, pad=1.5)
    ax.tick_params(which='minor', length=0)
    for s in ax.spines.values():
        s.set_color('#CFCFCF')
        s.set_linewidth(1.4)
    over.add_patch(Rectangle((panel_left[k], 603), 187, 24, fc='#F1F1F1', ec='#333333', lw=1.3))
    over.text(panel_left[k] + 93.5, 615, name, fontsize=10, color='#222222', ha='center', va='center')

over.text(60, 583, 'fPC scores', fontsize=12.5, color='#111111', ha='left', va='center')
over.text(549, 847, 'PC1: Place of Constriction', fontsize=12, color='#111111', ha='center', va='center')
over.text(18, 722, 'PC2: Tongue Backness', fontsize=12, color='#111111', ha='center', va='center', rotation=90)

fig.legend(handles=[Patch(fc=voc_colors[v], ec='none', label=v) for v in voc_names], title='Vocalisation',
           loc='upper left', bbox_to_anchor=(1057 / W, 1 - 670 / H), frameon=False, fontsize=9.5, title_fontsize=12,
           handlelength=1.3, handleheight=1.3, labelspacing=0.72, handletextpad=0.85, borderpad=0.2, alignment='left')

fig.savefig('out.png', dpi=100)
